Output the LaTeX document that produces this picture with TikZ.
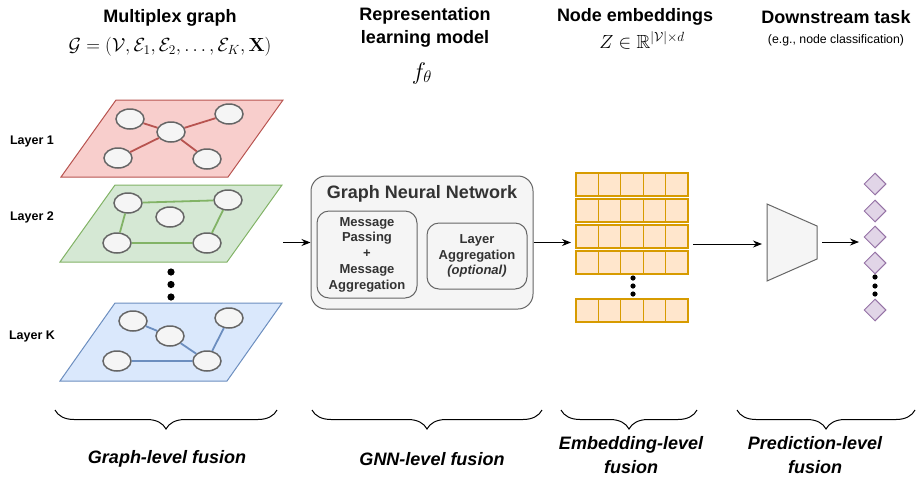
\RequirePackage{fix-cm}
\documentclass[tikz,border=0pt]{standalone}
\usepackage{amsmath,amssymb}
\usepackage[no-math]{fontspec}
\setmainfont{Liberation Sans}
\usetikzlibrary{shapes.geometric,arrows.meta,decorations.pathreplacing}
\definecolor{vline}{HTML}{666666}
\definecolor{vfill}{HTML}{F5F5F5}
\definecolor{txtgray}{HTML}{333333}
\definecolor{redfill}{HTML}{F8CECC}
\definecolor{redline}{HTML}{B85450}
\definecolor{greenfill}{HTML}{D5E8D4}
\definecolor{greenline}{HTML}{82B366}
\definecolor{bluefill}{HTML}{DAE8FC}
\definecolor{blueline}{HTML}{6C8EBF}
\definecolor{embfill}{HTML}{FFE6CC}
\definecolor{embline}{HTML}{D79B00}
\definecolor{purpfill}{HTML}{E1D5E7}
\definecolor{purpline}{HTML}{9673A6}
\begin{document}
\begin{tikzpicture}[x=1pt,y=-1pt,
  vtx/.style={ellipse,draw=vline,fill=vfill,line width=1.5pt,minimum width=28pt,minimum height=20pt,inner sep=0pt},
  ttl/.style={font=\fontsize{18}{23}\selectfont\bfseries,align=center},
  lbl/.style={font=\fontsize{12.5}{15}\selectfont\bfseries},
  fus/.style={font=\fontsize{18}{24}\selectfont\bfseries\itshape,align=center},
  gnnbox/.style={draw=vline,fill=vfill,rounded corners=15pt,line width=1pt,minimum width=222pt,minimum height=133pt},
  inbox/.style={draw=vline,fill=vfill,rounded corners=12pt,line width=1pt,minimum width=100pt,text=txtgray,font=\fontsize{13}{15.7}\selectfont\bfseries,align=center,inner sep=0pt},
  cell/.style={draw=embline,fill=embfill,line width=1.2pt},
  cls/.style={diamond,draw=purpline,fill=purpfill,line width=1pt,minimum width=22pt,minimum height=22pt,inner sep=0pt},
  arr/.style={-{Stealth[length=9pt,width=7pt]},line width=1pt},
  brc/.style={decorate,decoration={brace,mirror,amplitude=19pt},line width=1pt}]
\useasboundingbox (0,0) rectangle (917,483);
\pgfmathsetmacro{\cw}{22.4}
\pgfmathsetmacro{\ch}{23}
%column titles
\node[ttl] (t1) at (170,18) {Multiplex graph};
\node[font=\fontsize{19}{21}\selectfont] (t1m) at (170,47) {$\mathcal{G}=(\mathcal{V},\mathcal{E}_1,\mathcal{E}_2,\ldots,\mathcal{E}_K,\mathbf{X})$};
\node[ttl] (t2) at (425,27.5) {Representation\\learning model};
\node[font=\fontsize{24}{26}\selectfont] (t2m) at (422,73) {$f_\theta$};
\node[ttl] (t3) at (635,17) {Node embeddings};
\node[font=\fontsize{19}{21}\selectfont] (t3m) at (642,40) {$Z\in\mathbb{R}^{|\mathcal{V}|\times d}$};
\node[ttl] (t4) at (836,17) {Downstream task};
\node[font=\fontsize{12.3}{15}\selectfont] (t4s) at (836,40) {(e.g., node classification)};
%layer 1
\draw[draw=redline,fill=redfill,line width=1pt](61,177)--(228,177)--(283,100)--(116,100)--cycle;
\node[lbl] (l1) at (32,141) {Layer 1};
\node[vtx] (a1) at (130,119) {};
\node[vtx] (a2) at (171,132) {};
\node[vtx] (a3) at (229,114) {};
\node[vtx] (a4) at (118,158) {};
\node[vtx] (a5) at (207,159) {};
\draw[redline,line width=1.8pt](a1)--(a2) (a2)--(a3) (a2)--(a4) (a2)--(a5);
%layer 2
\draw[draw=greenline,fill=greenfill,line width=1pt](60,262)--(227,262)--(282,185)--(115,185)--cycle;
\node[lbl] (l2) at (32,217) {Layer 2};
\node[vtx] (b1) at (128,203) {};
\node[vtx] (b2) at (228,200) {};
\node[vtx] (b3) at (170,217) {};
\node[vtx] (b4) at (117,243) {};
\node[vtx] (b5) at (207,243) {};
\draw[greenline,line width=1.8pt](b1)--(b2) (b1)--(b4) (b4)--(b5) (b5)--(b2);
\foreach \y in {272,284.5,297}
  \fill (171,\y) circle (3.6pt);
%layer K
\draw[draw=blueline,fill=bluefill,line width=1pt](60,381)--(227,381)--(282,303)--(115,303)--cycle;
\node[lbl] (lk) at (32,336) {Layer K};
\node[vtx] (k1) at (133,321) {};
\node[vtx] (k2) at (170,336) {};
\node[vtx] (k3) at (229,318) {};
\node[vtx] (k4) at (117,361) {};
\node[vtx] (k5) at (207,361) {};
\draw[blueline,line width=1.8pt](k1)--(k2) (k2)--(k5) (k5)--(k3) (k4)--(k5);
%GNN block
\node[gnnbox] (gnn) at (422,242.5) {};
\node[font=\fontsize{18}{20}\selectfont\bfseries,text=txtgray] (gnnt) at (422,194) {Graph Neural Network};
\node[inbox,minimum height=87pt] (mp) at (367,254.5) {Message\\Passing\\+\\Message\\Aggregation};
\node[inbox,minimum height=66pt] (la) at (477,256) {Layer\\Aggregation\\\textit{(optional)}};
%embedding matrix
\foreach \ty in {173,199,225,251,299}
  \foreach \i in {0,...,4}
    \draw[cell]({576+\i*\cw},\ty) rectangle ++(\cw,\ch);
\foreach \y in {278,286,294}
  \fill (633,\y) circle (2.6pt);
%classifier
\draw[draw=vline,fill=vfill,line width=1pt](767,204)--(817,226)--(817,259)--(767,281)--cycle;
\foreach \n/\y in {1/184,2/211,3/237,4/263,5/310}
  \node[cls] (d\n) at (875,\y) {};
\foreach \y in {277,286,294}
  \fill (875,\y) circle (2.6pt);
%arrows
\coordinate (lay) at (283,242.5);
\coordinate (embin) at (571,242.5);
\coordinate (embout) at (693,244);
\coordinate (trapin) at (762,244);
\coordinate (trapout) at (822,242);
\coordinate (clsin) at (859,242);
\draw[arr](lay)--(gnn.west);
\draw[arr](gnn.east)--(embin);
\draw[arr](embout)--(trapin);
\draw[arr](trapout)--(clsin);
%fusion levels
\draw[brc](55,410)--(277,410);
\draw[brc](312,410)--(542,410);
\draw[brc](561,410)--(697,410);
\draw[brc](737,410)--(915,410);
\node[fus] (f1) at (167,459) {Graph-level fusion};
\node[fus] (f2) at (432,459) {GNN-level fusion};
\node[fus] (f3) at (631,455) {Embedding-level\\fusion};
\node[fus] (f4) at (815,455) {Prediction-level\\fusion};
\end{tikzpicture}
\end{document}
